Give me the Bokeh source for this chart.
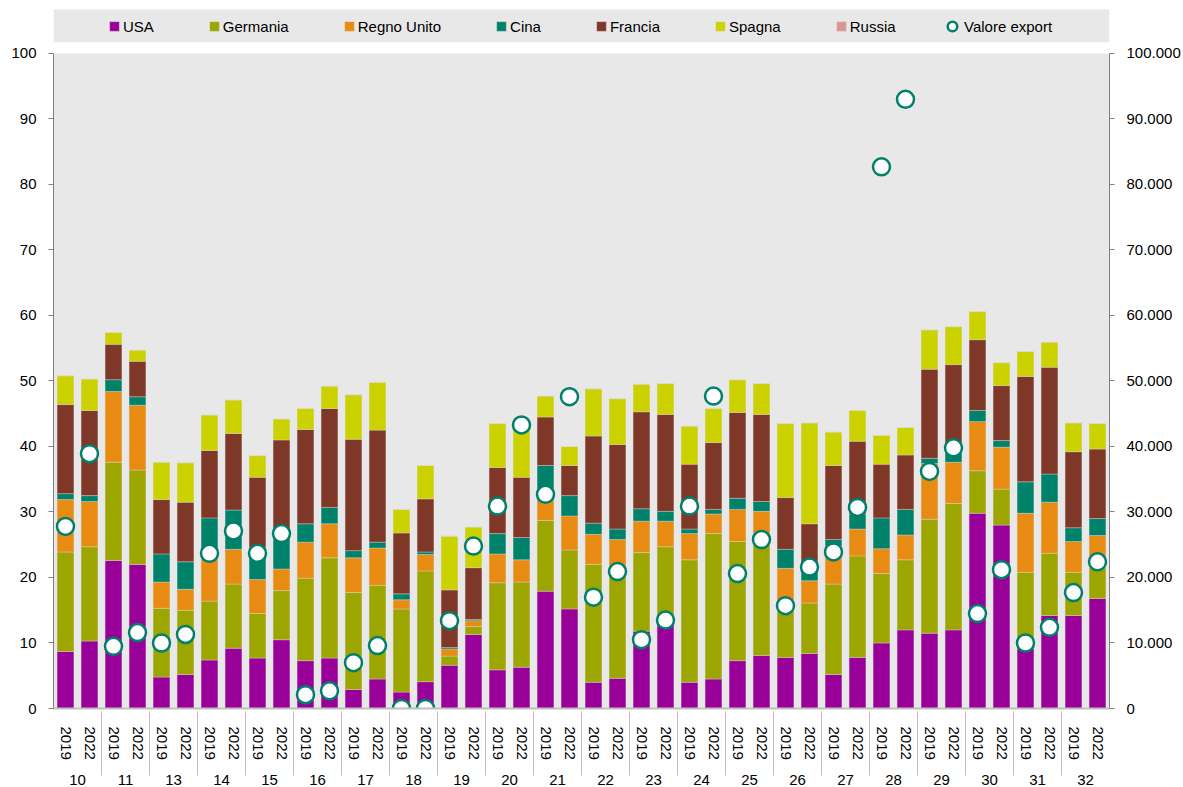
from bokeh.plotting import figure
from bokeh.models import (ColumnDataSource, FactorRange, Range1d, LinearAxis, FixedTicker,
                          CustomJSTickFormatter, BoxAnnotation, Legend, LegendItem)
from bokeh.embed import file_html
from bokeh.resources import INLINE

groups = ["10", "11", "13", "14", "15", "16", "17", "18", "19", "20", "21",
          "22", "23", "24", "25", "26", "27", "28", "29", "30", "31", "32"]
years = ["2019", "2022"]

usa = [8.7, 10.3, 22.6, 22.0, 4.8, 5.2, 7.4, 9.2, 7.7, 10.5, 7.3, 7.7, 2.9, 4.5, 2.5, 4.1,
       6.6, 11.3, 5.9, 6.3, 17.9, 15.2, 4.0, 4.6, 11.8, 13.0, 4.0, 4.5, 7.3, 8.1, 7.8, 8.4,
       5.2, 7.8, 10.0, 12.0, 11.5, 12.0, 29.8, 28.0, 9.2, 14.2, 14.2, 16.8]
germania = [15.2, 14.4, 15.0, 14.4, 10.5, 9.8, 9.0, 9.8, 6.8, 7.5, 12.6, 15.3, 14.8, 14.3, 12.7, 16.9,
            1.4, 1.2, 13.3, 13.0, 10.8, 9.0, 18.0, 16.4, 12.0, 11.7, 18.7, 22.2, 18.2, 16.9, 8.7, 7.7,
            13.8, 15.5, 10.6, 10.7, 17.4, 19.3, 6.5, 5.5, 11.6, 9.5, 6.6, 4.7]
regno_unito = [8.0, 6.9, 10.8, 9.9, 4.0, 3.2, 6.7, 5.3, 5.2, 3.3, 5.5, 5.2, 5.3, 5.7, 1.4, 2.5,
               1.1, 0.9, 4.4, 3.4, 3.1, 5.2, 4.6, 4.8, 4.8, 3.9, 4.0, 3.0, 4.9, 5.1, 4.9, 3.4,
               5.8, 4.1, 3.8, 3.8, 8.5, 6.3, 7.5, 6.4, 9.0, 7.8, 4.7, 4.9]
cina = [0.9, 0.9, 1.8, 1.3, 4.3, 4.2, 6.0, 6.0, 4.9, 5.7, 2.8, 2.5, 1.1, 0.9, 0.9, 0.4,
        0.2, 0.2, 3.1, 3.4, 5.3, 3.1, 1.7, 1.6, 1.9, 1.5, 0.7, 0.7, 1.7, 1.5, 2.9, 2.5,
        1.0, 2.3, 4.7, 3.9, 0.8, 2.7, 1.7, 1.0, 4.8, 4.3, 2.1, 2.6]
francia = [13.6, 13.0, 5.4, 5.4, 8.3, 9.1, 10.3, 11.7, 10.7, 14.0, 14.4, 15.1, 17.0, 17.1, 9.3, 8.1,
           8.8, 7.9, 10.1, 9.2, 7.4, 4.6, 13.3, 12.9, 14.8, 14.8, 9.9, 10.2, 13.1, 13.3, 7.9, 6.2,
           11.3, 11.1, 8.2, 8.3, 13.6, 12.2, 10.8, 8.4, 16.1, 16.3, 11.6, 10.6]
spagna = [4.4, 4.8, 1.8, 1.7, 5.7, 6.0, 5.4, 5.1, 3.3, 3.2, 3.2, 3.4, 6.8, 7.3, 3.6, 5.1,
          8.2, 6.2, 6.7, 8.0, 3.2, 2.9, 7.2, 7.0, 4.2, 4.7, 5.8, 5.2, 5.0, 4.7, 11.3, 15.4,
          5.1, 4.7, 4.4, 4.2, 6.0, 5.8, 4.3, 3.5, 3.8, 3.8, 4.4, 3.9]
russia = [0.0, 0.0, 0.0, 0.0, 0.0, 0.0, 0.0, 0.0, 0.0, 0.0, 0.0, 0.0, 0.0, 0.0, 0.0, 0.0,
          0.0, 0.0, 0.0, 0.0, 0.0, 0.0, 0.0, 0.0, 0.0, 0.0, 0.0, 0.0, 0.0, 0.0, 0.0, 0.0,
          0.0, 0.0, 0.0, 0.0, 0.0, 0.0, 0.0, 0.0, 0.0, 0.0, 0.0, 0.0]
valore_export = [27800, 38900, 9500, 11600, 10000, 11300, 23700, 27100, 23700, 26700, 2100, 2700,
                 7000, 9600, 0, 0, 13400, 24800, 30900, 43300, 32700, 47600, 17000, 20900,
                 10500, 13500, 30900, 47700, 20600, 25800, 15700, 21600, 23900, 30700, 82700, 93000,
                 36200, 39800, 14500, 21200, 10000, 12400, 17700, 22400]

series_names = ["USA", "Germania", "Regno Unito", "Cina", "Francia", "Spagna", "Russia"]
series_values = [usa, germania, regno_unito, cina, francia, spagna, russia]
colors = ["#990099", "#9da600", "#e88b12", "#00826a", "#7f3728", "#ccd200", "#d99594"]

FONT = "Liberation Sans"
FS = "15px"

x = [(g, y) for g in groups for y in years]
data = {"x": x, "export": valore_export}
for n, v in zip(series_names, series_values):
    data[n] = v
source = ColumnDataSource(data)

Y_END = 106.87
p = figure(x_range=FactorRange(*x, group_padding=0, factor_padding=0, range_padding=0),
           y_range=Range1d(0, Y_END), width=1183, height=787,
           output_backend="svg", toolbar_location=None,
           min_border_left=53, min_border_right=73, min_border_top=8, min_border_bottom=79)
p.extra_y_ranges = {"exp": Range1d(0, Y_END * 1000)}
p.background_fill_color = "white"
p.border_fill_color = "white"
p.outline_line_color = None
p.xgrid.visible = False
p.ygrid.visible = False

p.add_layout(BoxAnnotation(bottom=0, top=100, fill_color="#e8e8e8", fill_alpha=1,
                           line_color=None, level="underlay"))
p.add_layout(BoxAnnotation(bottom=101.7, top=106.7, fill_color="#e8e8e8", fill_alpha=1,
                           line_color=None, level="underlay"))

rs = p.vbar_stack(series_names, x="x", width=0.7, source=source, color=colors,
                  line_color="#dcdcdc", line_width=0.6, line_alpha=0.6)
circ = p.scatter(x="x", y="export", y_range_name="exp", source=source, size=17,
                 fill_color="white", line_color="#00806a", line_width=2.5)

# left axis
ya = p.yaxis[0]
ya.bounds = (0, 100)
ya.ticker = FixedTicker(ticks=[0, 10, 20, 30, 40, 50, 60, 70, 80, 90, 100])
ya.axis_line_color = "#808080"
ya.major_tick_line_color = "#808080"
ya.major_tick_out = 5
ya.major_tick_in = 0
ya.minor_tick_line_color = None
ya.major_label_standoff = 12
ya.major_label_text_font = FONT
ya.major_label_text_font_size = FS
ya.major_label_text_color = "black"

# right axis
ra = LinearAxis(y_range_name="exp", bounds=(0, 100000),
                ticker=FixedTicker(ticks=[0, 10000, 20000, 30000, 40000, 50000, 60000,
                                          70000, 80000, 90000, 100000]),
                formatter=CustomJSTickFormatter(
                    code="return tick.toFixed(0).replace(/\\B(?=(\\d{3})+(?!\\d))/g, '.')"))
ra.axis_line_color = "#808080"
ra.major_tick_line_color = "#808080"
ra.major_tick_out = 5
ra.major_tick_in = 0
ra.minor_tick_line_color = None
ra.major_label_standoff = 12
ra.major_label_text_font = FONT
ra.major_label_text_font_size = FS
ra.major_label_text_color = "black"
p.add_layout(ra, "right")

# x axis
xa = p.xaxis[0]
xa.axis_line_color = "#bfbfbf"
xa.axis_line_width = 2
xa.major_tick_line_color = None
xa.major_label_orientation = "vertical"
xa.major_label_standoff = 12
xa.major_label_text_font = FONT
xa.major_label_text_font_size = FS
xa.major_label_text_color = "black"
xa.group_text_font = FONT
xa.group_text_font_size = FS
xa.group_text_color = "black"
xa.group_text_font_style = "normal"
xa.group_label_orientation = "horizontal"
xa.separator_line_color = "#bfbfbf"
xa.separator_line_width = 1

# legends
items = [LegendItem(label=n, renderers=[r]) for n, r in zip(series_names, rs)]
leg1 = Legend(items=items, orientation="horizontal", location=(55, 672),
              glyph_width=12, glyph_height=12, label_standoff=3, spacing=54,
              padding=0, margin=0, label_height=20, label_width=0,
              background_fill_alpha=0, border_line_color=None,
              label_text_font=FONT, label_text_font_size=FS, label_text_color="black")
leg2 = Legend(items=[LegendItem(label="Valore export", renderers=[circ])],
              orientation="horizontal", location=(887, 670),
              glyph_width=24, glyph_height=24, label_standoff=-5, spacing=0,
              padding=0, margin=0, label_height=20, label_width=0,
              background_fill_alpha=0, border_line_color=None,
              label_text_font=FONT, label_text_font_size=FS, label_text_color="black")
p.add_layout(leg1)
p.add_layout(leg2)

open("out.html", "w").write(file_html(p, INLINE))
